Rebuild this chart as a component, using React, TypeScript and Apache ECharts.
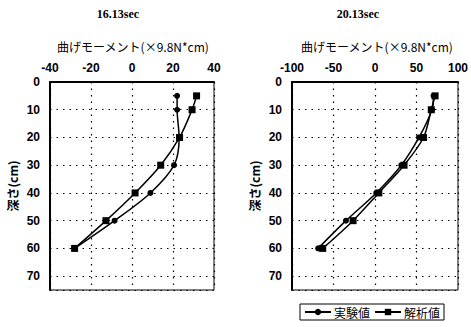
import React, { useEffect, useRef } from "react";
import * as echarts from "echarts";

const depths = [5, 10, 20, 30, 40, 50, 60];
const leftExp = [22, 22, 23, 20.5, 9, -8.5, -28];
const leftAna = [31.5, 29.3, 23.2, 14, 1.5, -12.7, -28];
const rightExp = [70.5, 68.6, 53, 31.7, 1.5, -35, -68.5];
const rightAna = [72.4, 67.8, 58.5, 35, 4.6, -26.4, -63];
const leftXTicks = { min: -40, max: 40, interval: 20 };
const rightXTicks = { min: -100, max: 100, interval: 50 };
const yTicks = { min: 0, max: 75, interval: 10 };
const titles = ["16.13sec", "20.13sec"];
const xName = "曲げモーメント(×9.8N*cm)";
const yName = "深さ(cm)";
const seriesNames = ["実験値", "解析値"];

const numFont = { fontFamily: "Liberation Sans", fontWeight: "bold" as const, fontSize: 12, color: "#000" };
const cjk = "Noto Sans CJK JP";

export default function App() {
  const ref = useRef<HTMLDivElement>(null);
  useEffect(() => {
    if (!ref.current) return;
    const chart = echarts.init(ref.current, null, { renderer: "svg" });
    const mk = (vals: number[]) => vals.map((v, i) => [v, depths[i]]);
    const grid = { color: "#000", type: [1.5, 5], width: 1.2 };
    const xAxisBase = (t: { min: number; max: number; interval: number }, gi: number) => ({
      type: "value",
      gridIndex: gi,
      position: "top",
      min: t.min,
      max: t.max,
      interval: t.interval,
      axisLine: { show: true, onZero: false, lineStyle: { color: "#000", width: 2 } },
      axisTick: { show: false },
      axisLabel: { ...numFont, margin: 8 },
      splitLine: { show: true, lineStyle: grid },
    });
    const yAxisBase = (gi: number) => ({
      type: "value",
      gridIndex: gi,
      inverse: true,
      min: yTicks.min,
      max: yTicks.max,
      interval: yTicks.interval,
      axisLine: { show: true, onZero: false, lineStyle: { color: "#000", width: 2 } },
      axisTick: { show: false },
      axisLabel: { ...numFont, margin: 10, showMaxLabel: false, formatter: (v: number) => (v > 70 ? "" : String(v)) },
      splitLine: { show: true, lineStyle: grid },
    });
    const line = (name: string, vals: number[], gi: number, symbol: string, size: number) => ({
      type: "line",
      name,
      xAxisIndex: gi,
      yAxisIndex: gi,
      data: mk(vals),
      smooth: 0.3,
      symbol,
      symbolSize: size,
      lineStyle: { color: "#000", width: 1.5 },
      itemStyle: { color: "#000" },
    });
    chart.setOption({
      animation: false,
      backgroundColor: "#fff",
      grid: [
        { left: 50, top: 82, width: 164, height: 208, show: true, borderColor: "#000", borderWidth: 1 },
        { left: 292, top: 82, width: 171, height: 208, show: true, borderColor: "#000", borderWidth: 1 },
      ],
      xAxis: [xAxisBase(leftXTicks, 0), xAxisBase(rightXTicks, 1)],
      yAxis: [yAxisBase(0), yAxisBase(1)],
      legend: {
        data: seriesNames,
        left: 300,
        top: 304,
        padding: [2, 4],
        itemWidth: 26,
        itemHeight: 8,
        itemGap: 4,
        borderColor: "#000",
        borderWidth: 1,
        textStyle: { fontFamily: cjk, fontSize: 12, color: "#000", padding: [0, 0, 0, -2] },
      },
      graphic: [
        { type: "text", x: 118, y: 14, style: { text: titles[0], fontFamily: "Liberation Serif", fontWeight: "bold", fontSize: 12, fill: "#000", align: "center", verticalAlign: "middle" } },
        { type: "text", x: 358, y: 14, style: { text: titles[1], fontFamily: "Liberation Serif", fontWeight: "bold", fontSize: 12, fill: "#000", align: "center", verticalAlign: "middle" } },
        { type: "text", x: 133, y: 46, style: { text: xName, fontFamily: cjk, fontSize: 12, fill: "#000", align: "center", verticalAlign: "middle" } },
        { type: "text", x: 377, y: 46, style: { text: xName, fontFamily: cjk, fontSize: 12, fill: "#000", align: "center", verticalAlign: "middle" } },
        { type: "text", x: 12, y: 186, rotation: Math.PI / 2, style: { text: yName, fontFamily: cjk, fontWeight: "bold", fontSize: 12, fill: "#000", align: "center", verticalAlign: "middle" } },
        { type: "text", x: 254, y: 186, rotation: Math.PI / 2, style: { text: yName, fontFamily: cjk, fontWeight: "bold", fontSize: 12, fill: "#000", align: "center", verticalAlign: "middle" } },
      ],
      series: [
        line(seriesNames[0], leftExp, 0, "circle", 6),
        line(seriesNames[1], leftAna, 0, "rect", 7),
        line(seriesNames[0], rightExp, 1, "circle", 6),
        line(seriesNames[1], rightAna, 1, "rect", 7),
      ],
    });
    return () => chart.dispose();
  }, []);
  return <div ref={ref} style={{ position: "fixed", left: 0, top: 0, width: 471, height: 327 }} />;
}
